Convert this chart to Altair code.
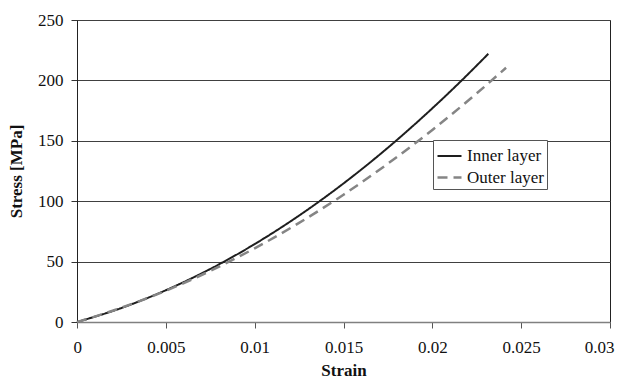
import altair as alt
import pandas as pd

strain_inner = [0, 0.0025, 0.005, 0.0075, 0.01, 0.0125, 0.015, 0.0175, 0.02, 0.0215, 0.02315]
stress_inner = [0, 11.6, 26.3, 43.9, 64.5, 88.1, 114.7, 144.3, 176.9, 197.8, 222.0]
strain_outer = [0, 0.0025, 0.005, 0.0075, 0.01, 0.0125, 0.015, 0.0175, 0.02, 0.0225, 0.02415]
stress_outer = [0, 11.8, 25.9, 42.3, 61.0, 82.0, 105.4, 131.1, 159.0, 189.3, 210.5]
series = ["Inner layer", "Outer layer"]

rows = []
for i, (x, y) in enumerate(zip(strain_inner, stress_inner)):
    rows.append({"strain": x, "stress": y, "layer": series[0], "order": i})
for i, (x, y) in enumerate(zip(strain_outer, stress_outer)):
    rows.append({"strain": x, "stress": y, "layer": series[1], "order": i})
df = pd.DataFrame(rows)

font = "Liberation Serif, Times New Roman, serif"

chart = alt.Chart(df).mark_line(interpolate="monotone").encode(
    x=alt.X("strain:Q", title="Strain",
            scale=alt.Scale(domain=[0, 0.03], nice=False),
            axis=alt.Axis(values=[0, 0.005, 0.01, 0.015, 0.02, 0.025, 0.03],
                          labelExpr="format(datum.value, '~g')",
                          grid=False, domainColor="#808080", domainWidth=1.5,
                          tickColor="#555", tickSize=6, labelPadding=11,
                          titlePadding=7, labelFlush=True, labelFlushOffset=4)),
    y=alt.Y("stress:Q", title="Stress [MPa]",
            scale=alt.Scale(domain=[0, 250], nice=False),
            axis=alt.Axis(values=[0, 50, 100, 150, 200, 250],
                          grid=True, gridColor="#404040", gridWidth=1,
                          domainColor="#222", tickColor="#333", tickSize=6,
                          labelPadding=8, titlePadding=12)),
    color=alt.Color("layer:N",
                    scale=alt.Scale(domain=series, range=["#1e1e1e", "#858585"]),
                    legend=alt.Legend(title=None, orient="none", legendX=356, legendY=120,
                                      symbolType="stroke", symbolSize=576,
                                      symbolStrokeWidth=2.5, labelFont=font,
                                      labelFontSize=17, labelColor="#111",
                                      strokeColor="#555", fillColor="white",
                                      padding=3, rowPadding=0, labelOffset=4)),
    strokeDash=alt.StrokeDash("layer:N",
                              scale=alt.Scale(domain=series, range=[[1, 0], [10, 6]]),
                              legend=alt.Legend(title=None, orient="none", legendX=356, legendY=120)),
    strokeWidth=alt.StrokeWidth("layer:N",
                                scale=alt.Scale(domain=series, range=[2, 2.5]),
                                legend=None),
    order="order:Q",
).properties(
    width=533, height=302,
    autosize="none",
    padding={"left": 69, "top": 12, "right": 8, "bottom": 60},
).configure_view(
    stroke="#222", strokeWidth=1
).configure_axis(
    labelFont=font, labelFontSize=17, labelColor="#111",
    titleFont=font, titleFontSize=17, titleFontWeight="bold", titleColor="#111",
)

chart.save("out.html", embed_options={"renderer": "svg", "actions": False})
